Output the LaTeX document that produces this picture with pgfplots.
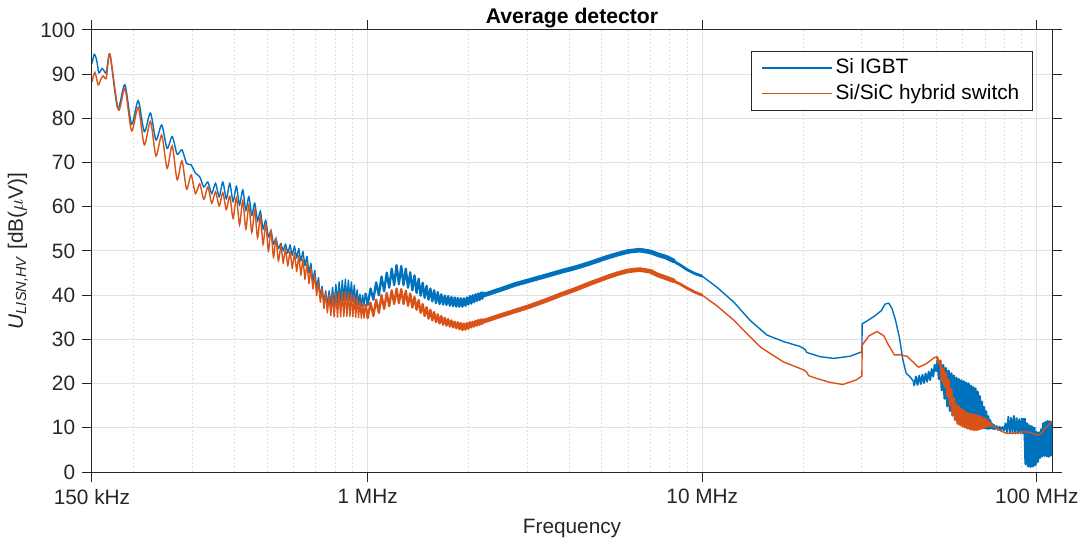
\documentclass[border=0pt]{standalone}
\usepackage{fontspec}
\setmainfont{Liberation Sans}
\usepackage{pgfplots}
\pgfplotsset{compat=1.18}
\definecolor{mblue}{RGB}{0,114,189}
\definecolor{morange}{RGB}{217,83,25}
\definecolor{axgray}{RGB}{38,38,38}
\definecolor{gridgray}{RGB}{225,225,225}
\begin{document}
\fontsize{10.4}{12.5}\selectfont
\begin{tikzpicture}
\useasboundingbox (-46pt,-34pt) rectangle (494pt,236pt);
\begin{axis}[
  at={(0,0)}, anchor=south west,
  scale only axis, width=480pt, height=221pt,
  xmode=log, xmin=0.15, xmax=111,
  ymin=0, ymax=100,
  xtick={0.15,1,10,100},
  xticklabels={150 kHz, 1 MHz, 10 MHz, 100 MHz},
  minor xtick={0.2,0.3,0.4,0.5,0.6,0.7,0.8,0.9,2,3,4,5,6,7,8,9,20,30,40,50,60,70,80,90},
  ytick={0,10,20,30,40,50,60,70,80,90,100},
  grid=both,
  major grid style={gridgray, line width=0.5pt},
  minor grid style={gray!25, line width=0.45pt, dash pattern=on 0.8pt off 1.2pt},
  tick align=outside,
  major tick length=4.8pt,
  minor tick length=0pt,
  axis line style={axgray, line width=0.5pt},
  tick style={axgray, line width=0.5pt},
  tick label style={font=\fontsize{10.4}{12}\selectfont, text=axgray},
  /pgf/number format/assume math mode=true,
  xlabel={Frequency},
  ylabel={\textit{U}\textsubscript{\textit{LISN,HV}} [dB($\mu$V)]},
  every axis x label/.style={at={(axis description cs:0.5,0)}, anchor=base, yshift=-30.5pt, text=axgray, font=\fontsize{10.4}{12}\selectfont},
  every axis y label/.style={at={(axis description cs:-0.0771,0.5)}, rotate=90, anchor=center, text=axgray, font=\fontsize{10.4}{12}\selectfont},
  title={\textbf{Average detector}},
  every axis title/.style={at={(axis description cs:0.5,1)}, anchor=base, yshift=3pt, font=\fontsize{10.6}{12}\selectfont},
  legend style={at={(axis description cs:1,1)}, anchor=north east, xshift=-9.5pt, yshift=-10.5pt,
    draw=axgray, line width=0.5pt, fill=white, font=\fontsize{10.4}{12}\selectfont,
    inner xsep=5pt, inner ysep=2.1pt, row sep=0.6pt, nodes={inner sep=1.6pt}, cells={anchor=west}},
  legend image code/.code={\draw[#1, line width=0.55pt] (0pt,0pt) -- (35pt,0pt);},
]
% ---------------- Si IGBT (blue) ----------------
\addplot[mblue, line width=0.7pt, smooth, tension=0.45] coordinates {
(0.150,92.4) (0.1524,94.5) (0.1549,93.2) (0.1573,90.3) (0.1607,91.3) (0.1629,90.8) (0.1654,90.2) (0.1671,92.4) (0.170,94.3)
(0.179,82.3) (0.1881,87.6) (0.197,78.7) (0.2062,84.0) (0.215,77.0) (0.2243,81.2) (0.233,75.1) (0.2424,78.5) (0.2515,73.2)
(0.2605,75.9) (0.2695,71.9) (0.2786,72.9) (0.2876,69.8) (0.2967,69.5) (0.3057,67.6) (0.3148,66.8) (0.3238,64.5) (0.3329,65.6)
(0.342,63.0) (0.351,65.3) (0.360,62.3) (0.3691,65.6) (0.378,61.8) (0.3872,65.3) (0.396,61.2) (0.4053,64.6) (0.414,60.4)
(0.4234,63.8) (0.4325,59.2) (0.4415,62.3) (0.4505,58.1) (0.4596,60.8) (0.4687,56.8) (0.4777,59.0) (0.4868,55.0) (0.4958,56.9)
(0.5049,53.2) (0.5139,54.6) (0.523,51.6) (0.532,52.8) (0.541,50.6) (0.5501,51.8)
};
\addlegendentry{Si IGBT}
\addplot[mblue, line width=0.7pt, line join=round, forget plot] coordinates {
(0.5501,51.8) (0.559,50.0) (0.5682,51.6) (0.577,49.5)
(0.5863,51.4) (0.595,49.0) (0.6044,51.1) (0.6135,48.4) (0.6225,50.6) (0.6315,47.7) (0.6406,49.9) (0.6495,46.7) (0.6587,48.8)
(0.6677,45.0) (0.6768,47.2) (0.6858,43.2) (0.6949,45.6) (0.7039,41.5) (0.713,44.0) (0.722,39.5) (0.7311,42.0) (0.740,38.0)
(0.7492,41.0) (0.758,37.5) (0.7673,41.0) (0.776,37.6) (0.7854,41.8) (0.794,37.9) (0.8035,42.4) (0.8125,38.2) (0.8216,43.0)
(0.8305,38.5) (0.8397,43.4) (0.8487,38.7) (0.8578,43.6) (0.8668,38.8) (0.8759,43.4) (0.885,38.7) (0.894,43.0) (0.903,38.5)
(0.9121,42.3) (0.921,38.2) (0.9302,41.2) (0.939,37.8) (0.9483,40.2) (0.9575,37.5) (0.9664,40.0) (0.9755,37.7) (0.9845,40.5)
};
\addplot[mblue, line width=1.15pt, line join=round, forget plot] coordinates {
(0.9845,40.5)
(1.00,37.8) (1.02,41.5) (1.04,39.0) (1.06,42.9) (1.08,40.0) (1.10,44.2) (1.12,40.9) (1.14,45.1) (1.16,41.7) (1.18,46.0)
(1.20,42.3) (1.22,46.8) (1.24,42.5) (1.26,46.6) (1.28,42.3) (1.30,46.0) (1.32,41.7) (1.34,45.2) (1.36,41.1) (1.38,44.5)
(1.40,40.5) (1.42,43.7) (1.44,39.9) (1.46,42.8) (1.48,39.4) (1.50,42.1) (1.52,39.0) (1.54,41.5) (1.56,38.6) (1.58,41.1)
(1.60,38.2) (1.62,40.7) (1.64,38.0) (1.66,40.2) (1.68,37.9) (1.70,39.9) (1.72,37.8) (1.74,39.8) (1.76,37.6) (1.78,39.6)
(1.80,37.5) (1.82,39.5) (1.84,37.4) (1.86,39.4) (1.88,37.4) (1.90,39.3) (1.92,37.4) (1.94,39.3) (1.96,37.6) (1.98,39.5)
(2.00,37.9) (2.02,39.8) (2.04,38.1) (2.06,40.0) (2.08,38.4) (2.10,40.2) (2.12,38.7) (2.14,40.4) (2.16,38.9) (2.18,40.6)
(2.20,39.2) (2.22,40.8)
};
\addplot[mblue, line width=2.3pt, line join=round, line cap=round, forget plot] coordinates {
(2.12,39.6) (2.22,40.0) (2.5,41.3) (2.75,42.4) (3.0,43.2) (3.38,44.3) (3.8,45.4) (4.17,46.2) (4.6,47.2) (5.16,48.5)
(5.6,49.3) (6.0,49.9) (6.5,50.2) (7.0,49.8) (7.35,49.2) (7.8,48.6) (8.2,47.8)
};
\addplot[mblue, line width=1.4pt, line join=round, forget plot] coordinates {
(8.0,48.2) (8.6,46.8) (9.0,45.8) (9.5,44.9) (10.0,44.3)
};
\addplot[mblue, line width=0.7pt, line join=round, forget plot] coordinates {
(9.5,44.9) (10.0,44.3) (11.06,41.8) (12.4,38.5) (13.9,34.3) (15.6,31.0) (17.5,29.5) (19.6,28.4) (20.3,27.7) (20.5,27.1)
(20.8,26.9) (22.5,26.1) (24.7,25.7) (27.7,26.2) (30.0,27.2) (30.05,33.5) (32.5,35.1) (34.3,36.5) (35.2,38.0) (36.1,38.2)
(36.9,37.0) (37.8,34.4) (38.8,30.6) (39.8,25.3) (40.7,22.3) (41.7,21.6) (42.8,20.5)
};
\addplot[mblue, line width=0.95pt, line join=round, forget plot] coordinates {
(42.8,20.5)
(43.0,19.6) (43.5,21.6) (44.0,19.7) (44.5,21.8) (45.0,19.9) (45.5,22.0) (46.0,20.1) (46.5,22.3) (47.0,20.4) (47.5,22.7)
(48.0,20.8) (48.5,23.3) (49.0,21.6) (49.5,24.3) (50.0,22.8) (50.5,25.3)
};
\addplot[mblue, line width=1.2pt, line join=round, forget plot] coordinates {
(50.5,25.3)
(51.0,21.0) (51.5,24.7) (52.0,18.5) (52.5,24.2) (53.0,16.6) (53.5,23.5) (54.0,14.9) (54.5,22.9) (55.0,13.8) (55.5,22.3)
(56.0,12.8) (56.5,21.8) (57.0,11.9) (57.5,21.3) (58.0,11.3) (58.5,21.0) (59.0,11.0) (59.5,20.7) (60.0,10.7) (60.5,20.5)
(61.0,10.4) (61.5,20.2) (62.0,10.2) (62.5,20.0) (63.0,10.1) (63.5,19.5) (64.0,10.0) (64.5,19.2) (65.0,10.0) (65.5,18.9)
(66.0,9.9) (66.5,18.2) (67.0,9.9) (67.5,17.2) (68.0,9.9) (68.5,15.9) (69.0,9.9) (69.5,14.7) (70.0,9.9) (70.5,13.7)
(71.0,9.8) (71.5,12.6) (72.0,9.8) (72.5,11.7) (73.0,9.9) (73.5,10.9) (74.0,9.8) (74.5,10.6) (75.0,9.6)
};
\addplot[mblue, line width=0.9pt, line join=round, forget plot] coordinates {
(75.0,9.6)
(75.8,10.4) (76.6,9.5) (77.4,10.3) (78.2,9.5) (79.0,10.2) (79.8,9.4) (80.6,11.0) (81.4,9.0) (82.2,12.5) (83.0,8.8)
(83.8,12.3) (84.6,8.7) (85.4,12.7) (86.2,8.7) (87.0,12.2) (87.8,8.7) (88.6,12.0) (89.4,8.7) (90.2,12.1) (91.0,8.7)
(91.8,12.2)
};
\addplot[mblue, line width=1.3pt, line join=round, forget plot] coordinates {
(91.8,12.2) (92.6,1.8) (93.4,11.0) (94.2,1.3) (95.0,10.5) (95.8,1.2) (96.6,10.3) (97.4,1.3) (98.2,10.0) (99.0,1.6)
(99.8,9.0) (100.6,2.3) (101.4,8.9) (102.2,3.2) (103.0,9.6) (103.8,3.6) (104.6,11.0) (105.4,3.7) (106.2,11.3) (107.0,3.6)
(107.8,11.5) (108.6,3.5) (109.4,11.4) (110.2,3.8) (111.0,11.2)
};
% ---------------- Si/SiC hybrid switch (orange) ----------------
\addplot[morange, line width=0.7pt, smooth, tension=0.45] coordinates {
(0.150,88.3) (0.1531,90.4) (0.1565,87.6) (0.1594,88.8) (0.1619,89.6) (0.1654,89.0) (0.1671,91.7) (0.170,94.3)
(0.180,81.9) (0.1881,86.8) (0.197,77.2) (0.2062,82.5) (0.215,74.0) (0.2243,79.3) (0.233,71.5) (0.2424,76.2) (0.2515,68.7)
(0.2605,73.8) (0.2695,66.1) (0.2786,70.4) (0.2876,64.0) (0.2967,67.2) (0.3057,63.0) (0.3148,65.2) (0.3238,61.7) (0.3329,64.5)
(0.342,60.8) (0.351,63.4) (0.360,60.2) (0.3691,63.2) (0.378,59.4) (0.3872,62.4) (0.396,57.4) (0.4053,62.1) (0.414,55.9)
(0.4234,61.4) (0.4325,55.0) (0.4415,60.4) (0.4505,54.2) (0.4596,59.2) (0.4687,53.0) (0.4777,57.8) (0.4868,51.5) (0.4958,56.2)
(0.5049,50.0) (0.5139,54.6) (0.523,48.6) (0.532,52.8) (0.541,47.8) (0.5501,51.5)
};
\addlegendentry{Si/SiC hybrid switch}
\addplot[morange, line width=0.7pt, line join=round, forget plot] coordinates {
(0.5501,51.5) (0.559,47.2) (0.5682,50.6) (0.577,46.6)
(0.5863,50.0) (0.595,46.0) (0.6044,49.6) (0.6135,45.3) (0.6225,49.0) (0.6315,44.5) (0.6406,48.2) (0.6495,43.6) (0.6587,47.2)
(0.6677,42.6) (0.6768,46.0) (0.6858,41.4) (0.6949,44.6) (0.7039,39.9) (0.713,43.0) (0.722,38.4) (0.7311,41.5) (0.740,37.0)
(0.7492,40.5) (0.758,36.0) (0.7673,40.0) (0.776,35.4) (0.7854,40.2) (0.794,35.1) (0.8035,40.4) (0.8125,35.0) (0.8216,40.6)
(0.8305,35.1) (0.8397,40.8) (0.8487,35.2) (0.8578,40.8) (0.8668,35.2) (0.8759,40.6) (0.885,35.2) (0.894,40.4) (0.903,35.1)
(0.9121,40.0) (0.921,35.0) (0.9302,39.4) (0.939,34.9) (0.9483,38.6) (0.9575,34.8) (0.9664,38.0) (0.9755,34.8) (0.9845,38.0)
};
\addplot[morange, line width=1.15pt, line join=round, forget plot] coordinates {
(0.9845,38.0)
(1.00,34.8) (1.02,38.3) (1.04,35.3) (1.06,39.0) (1.08,36.0) (1.10,40.0) (1.12,36.9) (1.14,40.5) (1.16,37.5) (1.18,41.1)
(1.20,38.0) (1.22,41.5) (1.24,38.2) (1.26,41.4) (1.28,38.0) (1.30,41.0) (1.32,37.6) (1.34,40.4) (1.36,37.2) (1.38,39.6)
(1.40,36.7) (1.42,38.9) (1.44,36.0) (1.46,38.0) (1.48,35.3) (1.50,37.3) (1.52,34.7) (1.54,36.7) (1.56,34.3) (1.58,36.2)
(1.60,33.9) (1.62,35.7) (1.64,33.6) (1.66,35.3) (1.68,33.3) (1.70,34.9) (1.72,33.1) (1.74,34.6) (1.76,32.9) (1.78,34.3)
(1.80,32.7) (1.82,34.0) (1.84,32.5) (1.86,33.9) (1.88,32.3) (1.90,33.7) (1.92,32.1) (1.94,33.6) (1.96,32.2) (1.98,33.7)
(2.00,32.4) (2.02,33.9) (2.04,32.7) (2.06,34.0) (2.08,32.9) (2.10,34.2) (2.12,33.1) (2.14,34.4) (2.16,33.3) (2.18,34.5)
(2.20,33.5) (2.22,34.7)
};
\addplot[morange, line width=2.3pt, line join=round, line cap=round, forget plot] coordinates {
(2.12,33.8) (2.22,34.1) (2.5,35.4) (2.75,36.4) (3.0,37.3) (3.38,38.7) (3.8,40.2) (4.17,41.3) (4.6,42.6) (5.16,44.0)
(5.6,44.9) (6.0,45.5) (6.5,45.8) (7.0,45.4) (7.35,44.6) (7.8,43.9) (8.2,43.3)
};
\addplot[morange, line width=1.4pt, line join=round, forget plot] coordinates {
(8.0,43.6) (8.6,42.5) (9.0,41.6) (9.5,40.7) (10.0,40.0)
};
\addplot[morange, line width=0.7pt, line join=round, forget plot] coordinates {
(9.5,40.7) (10.0,40.0) (11.06,37.6) (12.4,34.4) (13.9,30.6) (14.9,28.3) (15.6,27.3) (17.5,24.9) (20.1,23.1) (20.5,22.6)
(20.8,21.8) (21.9,21.2) (24.0,20.3) (26.3,19.8) (28.8,20.8) (30.0,21.7) (30.05,28.7) (31.5,30.8) (33.3,31.8) (34.9,30.8)
(35.8,29.1) (37.5,26.5) (39.0,26.5) (40.9,26.2) (42.5,25.0) (44.3,23.7) (46.5,24.4) (49.2,25.8) (50.3,26.1)
};
\addplot[morange, line width=1.2pt, line join=round, forget plot] coordinates {
(50.3,26.1)
(51.0,24.5) (51.5,25.2) (52.0,20.5) (52.5,23.4) (53.0,19.4) (53.5,22.4) (54.0,17.2) (54.5,20.8) (55.0,15.2) (55.5,18.7)
(56.0,13.0) (56.5,16.6) (57.0,11.8) (57.5,15.3) (58.0,10.9) (58.5,14.8) (59.0,10.6) (59.5,14.3) (60.0,10.3) (60.5,13.9)
(61.0,10.1) (61.5,13.4) (62.0,9.9) (62.5,13.2) (63.0,9.7) (63.5,13.1) (64.0,9.6) (64.5,13.0) (65.0,9.5) (65.5,12.9)
(66.0,9.5) (66.5,12.8) (67.0,9.6) (67.5,12.6) (68.0,9.8) (68.5,12.4) (69.0,10.0) (69.5,12.2) (70.0,10.2) (70.5,11.9)
(71.0,10.3) (71.5,11.5) (72.0,10.4) (72.5,11.0) (73.0,10.5) (73.5,10.7)
};
\addplot[morange, line width=0.7pt, line join=round, forget plot] coordinates {
(73.5,10.7) (74,10.4) (76,9.8) (78,9.3) (81.4,8.7) (85,8.8) (88,8.9) (91.3,9.1) (95,9.0) (98,8.6) (100.5,8.3) (102.9,8.7) (106,10.0) (111,11.4)
};
\end{axis}
\end{tikzpicture}
\end{document}
